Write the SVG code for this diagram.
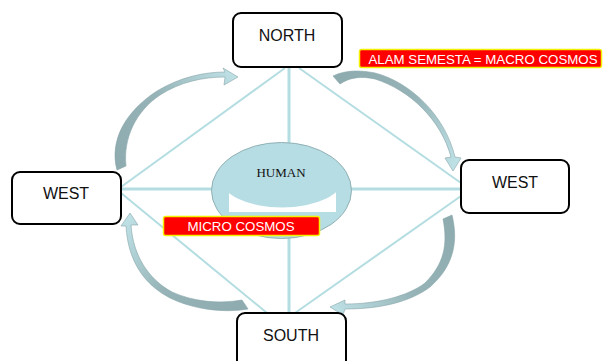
<svg xmlns="http://www.w3.org/2000/svg" width="603" height="361" viewBox="0 0 603 361">
<style>
.box{fill:#fff;stroke:#000;stroke-width:2}
.lbl{font-family:"Liberation Sans",Arial,sans-serif;font-size:16px;fill:#111;text-anchor:middle}
.tag{fill:#ff0000;stroke:#f2f200;stroke-width:1.5}
.tagt{font-family:"Liberation Sans",Arial,sans-serif;font-size:13.3px;fill:#fff;text-anchor:middle}
.ln{stroke:#b3dde1;fill:none}
.arr{stroke:#86a5a9;stroke-width:0.6}
</style>
<defs>
<linearGradient id="g1" gradientUnits="userSpaceOnUse" x1="120" y1="168" x2="238" y2="77"><stop offset="0" stop-color="#8eabaf"/><stop offset="0.5" stop-color="#96b4b8"/><stop offset="1" stop-color="#bfe2e6"/></linearGradient>
<linearGradient id="g2" gradientUnits="userSpaceOnUse" x1="336" y1="80" x2="453" y2="170"><stop offset="0" stop-color="#8eabaf"/><stop offset="0.5" stop-color="#96b4b8"/><stop offset="1" stop-color="#bfe2e6"/></linearGradient>
<linearGradient id="g3" gradientUnits="userSpaceOnUse" x1="448" y1="217" x2="330" y2="308"><stop offset="0" stop-color="#8eabaf"/><stop offset="0.5" stop-color="#96b4b8"/><stop offset="1" stop-color="#bfe2e6"/></linearGradient>
<linearGradient id="g4" gradientUnits="userSpaceOnUse" x1="245" y1="305" x2="130" y2="213"><stop offset="0" stop-color="#8eabaf"/><stop offset="0.5" stop-color="#96b4b8"/><stop offset="1" stop-color="#bfe2e6"/></linearGradient>
</defs>
<g id="connectors">
<line class="ln" stroke-width="3" x1="289" y1="68" x2="289" y2="313"/>
<line class="ln" stroke-width="3" x1="121" y1="189" x2="461" y2="189"/>
<line class="ln" stroke-width="2" x1="285" y1="68" x2="121" y2="187"/>
<line class="ln" stroke-width="2" x1="299" y1="68" x2="461" y2="183"/>
<line class="ln" stroke-width="2" x1="121" y1="193" x2="267" y2="313"/>
<line class="ln" stroke-width="2" x1="461" y1="196" x2="295" y2="313"/>
<path class="arr" fill="url(#g1)" d="M117,170 C109,140 126,111 157,91 C180,77 205,72 225,72 L223,68 L238,77 L224,85 L225,77 C203,77 180,82 160,95 C136,111 123,138 126,166 Z"/>
<path class="arr" fill="url(#g2)" d="M333,76 C345,70 360,70 375,73 C410,82 445,115 455,157 L461,158 L453,171 L445,158 L451,157 C441,120 410,90 375,79 C362,76 350,77 340,84 Z"/>
<path class="arr" fill="url(#g3)" d="M452,215 C458,240 455,265 430,287 C410,302 380,309 345,309 L343,315 L330,307 L345,300 L345,304 C378,304 408,296 425,283 C444,264 448,245 443,219 Z"/>
<path class="arr" fill="url(#g4)" d="M248,309 C225,313 195,310 170,298 C145,285 128,262 126,226 L121,226 L130,213 L138,225 L131,225 C133,255 148,279 172,292 C194,302 220,304 242,300 Z"/>
</g>
<g id="human">
<ellipse cx="281.5" cy="190.5" rx="70" ry="48" fill="#b7dde4" stroke="#8fb0b4" stroke-width="1"/>
<rect x="229" y="180" width="107" height="32" fill="#fff"/>
<ellipse cx="282" cy="177.5" rx="62" ry="30" fill="#b7dde4"/>
<text x="281" y="176.5" font-family="'Liberation Serif','Times New Roman',serif" font-size="13px" fill="#111" text-anchor="middle">HUMAN</text>
</g>
<g id="north">
<rect class="box" x="233" y="13" width="109" height="54" rx="8"/>
<text class="lbl" x="287" y="41">NORTH</text>
</g>
<g id="west-left">
<rect class="box" x="12" y="172" width="109" height="52" rx="8"/>
<text class="lbl" x="66" y="198.5">WEST</text>
</g>
<g id="west-right">
<rect class="box" x="461" y="160" width="108" height="53" rx="8"/>
<text class="lbl" x="515" y="188">WEST</text>
</g>
<g id="south">
<rect class="box" x="237" y="313" width="109" height="60" rx="8"/>
<text class="lbl" x="291" y="341">SOUTH</text>
</g>
<g id="macro">
<rect class="tag" x="359.5" y="49.5" width="242" height="18" rx="2"/>
<text class="tagt" x="483" y="63.5">ALAM SEMESTA = MACRO COSMOS</text>
</g>
<g id="micro">
<rect class="tag" x="163.5" y="216.5" width="156" height="19" rx="2"/>
<text class="tagt" x="241" y="231">MICRO COSMOS</text>
</g>
</svg>
